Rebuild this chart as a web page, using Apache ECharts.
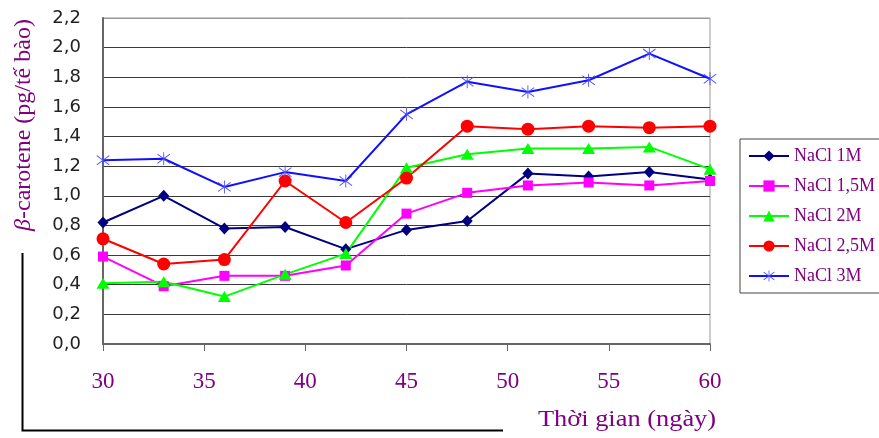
<!DOCTYPE html>
<html><head><meta charset="utf-8">
<script src="https://cdn.jsdelivr.net/npm/echarts@6/dist/echarts.min.js"></script>
<style>html,body{margin:0;padding:0;background:#fff}#c{width:879px;height:438px}</style>
</head><body><div id="c"></div>
<script>
const days = [30,33,36,39,42,45,48,51,54,57,60];
const seriesNames = ['NaCl 1M','NaCl 1,5M','NaCl 2M','NaCl 2,5M','NaCl 3M'];
const nacl1M  = [0.82,1.00,0.78,0.79,0.64,0.77,0.83,1.15,1.13,1.16,1.11];
const nacl15M = [0.59,0.39,0.46,0.46,0.53,0.88,1.02,1.07,1.09,1.07,1.10];
const nacl2M  = [0.41,0.42,0.32,0.47,0.61,1.19,1.28,1.32,1.32,1.33,1.18];
const nacl25M = [0.71,0.54,0.57,1.10,0.82,1.12,1.47,1.45,1.47,1.46,1.47];
const nacl3M  = [1.24,1.25,1.06,1.16,1.10,1.55,1.77,1.70,1.78,1.96,1.79];
const yAxisTitle = 'β-carotene (pg/tế bào)';
const xAxisTitle = 'Thời gian (ngày)';

const allValues = [nacl1M, nacl15M, nacl2M, nacl25M, nacl3M];
const starPath = 'path://M9.3,0L10.7,0L10.7,20L9.3,20Z M0.4,2.4L20.4,16.4L19.6,17.6L-0.4,3.6Z M-0.4,16.4L19.6,2.4L20.4,3.6L0.4,17.6Z';
const styles = [
  {line:'#000080', color:'#000080', symbol:'diamond', size:[11,12]},
  {line:'#ff00ff', color:'#ff00ff', symbol:'rect', size:10},
  {line:'#00ff00', color:'#00ff00', symbol:'triangle', size:[13,11]},
  {line:'#ff0000', color:'#ff0000', symbol:'circle', size:13},
  {line:'#1010ff', color:'#4a4aff', symbol:starPath, size:13}
];
const purple = '#800080';
const serif = '"Liberation Serif","Times New Roman",serif';

const splitColors = [];
for (let i = 0; i < 12; i++) splitColors.push(i === 11 ? '#999999' : '#3a3a3a');

const chart = echarts.init(document.getElementById('c'), null, {renderer:'canvas'});
chart.setOption({
  animation:false,
  backgroundColor:'#ffffff',
  grid:{left:103, right:169, top:18, bottom:94, show:true, borderColor:'#999', borderWidth:1},
  xAxis:{
    type:'value', min:30, max:60, interval:5,
    axisLine:{show:true, lineStyle:{color:'#666', width:2}},
    axisTick:{show:true, length:7, lineStyle:{color:'#666', width:1}},
    splitLine:{show:false},
    axisLabel:{color:purple, fontFamily:serif, fontSize:23, margin:26}
  },
  yAxis:{
    type:'value', min:0, max:2.2, interval:0.2,
    axisLine:{show:true, lineStyle:{color:'#666', width:2}},
    axisTick:{show:false},
    splitLine:{show:true, lineStyle:{color:splitColors, width:1}},
    axisLabel:{color:'#222', fontFamily:'"DejaVu Sans",sans-serif', fontSize:18, margin:22,
      formatter:v => v.toFixed(1).replace('.', ',')}
  },
  legend:{
    orient:'vertical', left:740, top:139,
    padding:[8,9,8,8], itemWidth:40, itemHeight:14, itemGap:12,
    borderColor:'#444', borderWidth:1,
    textStyle:{color:purple, fontFamily:serif, fontSize:18},
    data:seriesNames
  },
  series: seriesNames.map((name, k) => ({
    name:name, type:'line',
    data: days.map((d, i) => [d, allValues[k][i]]),
    symbol: styles[k].symbol, symbolSize: styles[k].size,
    showSymbol:true,
    lineStyle:{color:styles[k].line, width:2},
    itemStyle:{color:styles[k].color, borderWidth:0},
    emphasis:{disabled:true}
  })),
  graphic:[
    {type:'text', x:24, y:125, rotation:Math.PI/2,
      style:{text:'{b|β}-carotene (pg/tế bào)', rich:{b:{fontStyle:'italic', fontFamily:serif, fontSize:24, fill:purple}},
        fontFamily:serif, fontSize:24, fill:purple, align:'center', verticalAlign:'middle'}},
    {type:'text', x:627, y:420, scaleX:1.1,
      style:{text:xAxisTitle, fontFamily:serif, fontSize:24, fill:purple, align:'center', verticalAlign:'middle'}},
    {type:'polyline', shape:{points:[[22.5,253],[22.5,430.5],[503,430.5]]}, style:{stroke:'#000', lineWidth:2, fill:null}}
  ]
});
</script></body></html>
